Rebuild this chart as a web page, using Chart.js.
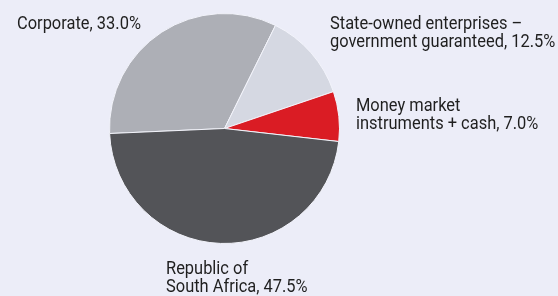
<!DOCTYPE html>
<html>
<head>
<meta charset="utf-8">
<script src="https://cdn.jsdelivr.net/npm/chart.js@4"></script>
<style>
  html, body { margin: 0; padding: 0; background: #ecedf8; }
  #wrap { width: 558px; height: 296px; position: relative; }
</style>
</head>
<body>
<div id="wrap"><canvas id="pieChart" width="558" height="296"></canvas></div>
<script>
const categories = ['Corporate', 'State-owned enterprises – government guaranteed', 'Money market instruments + cash', 'Republic of South Africa'];
const shares = [33.0, 12.5, 7.0, 47.5];
// label lines as they are broken in the picture
const labelLines = [
  ['Corporate, 33.0%'],
  ['State-owned enterprises –', 'government guaranteed, 12.5%'],
  ['Money market', 'instruments + cash, 7.0%'],
  ['Republic of', 'South Africa, 47.5%']
];
const colors = ['#adafb6', '#d5d8e2', '#da1c24', '#535458'];

// where each label block starts (left x, first baseline)
const labelPos = [[17, 28.5], [330, 28.5], [356, 110.5], [166, 273.5]];

const labelPlugin = {
  id: 'sliceLabels',
  afterDraw(chart) {
    const c = chart.ctx;
    c.save();
    c.font = '19px Roboto, "Liberation Sans", sans-serif';
    c.fillStyle = '#1f1f1f';
    c.textAlign = 'left';
    c.textBaseline = 'alphabetic';
    labelLines.forEach((lines, i) => {
      lines.forEach((t, j) => {
        c.save();
        c.translate(labelPos[i][0], labelPos[i][1] + j * 18.5);
        c.scale(0.865, 1); // the original face is narrower
        c.fillText(t, 0, 0);
        c.restore();
      });
    });
    c.restore();
  }
};

const ctx = document.getElementById('pieChart').getContext('2d');
const chart = new Chart(ctx, {
  type: 'pie',
  data: {
    labels: categories,
    datasets: [{
      data: shares,
      backgroundColor: colors,
      borderColor: '#f2f3fa',
      borderWidth: 1
    }]
  },
  options: {
    responsive: false,
    animation: false,
    rotation: 267.5,
    layout: { padding: { left: 109, right: 218, top: 12.5, bottom: 51.5 } },
    plugins: {
      legend: { display: false },
      tooltip: { enabled: false }
    },
    events: []
  },
  plugins: [labelPlugin]
});
</script>
</body>
</html>
